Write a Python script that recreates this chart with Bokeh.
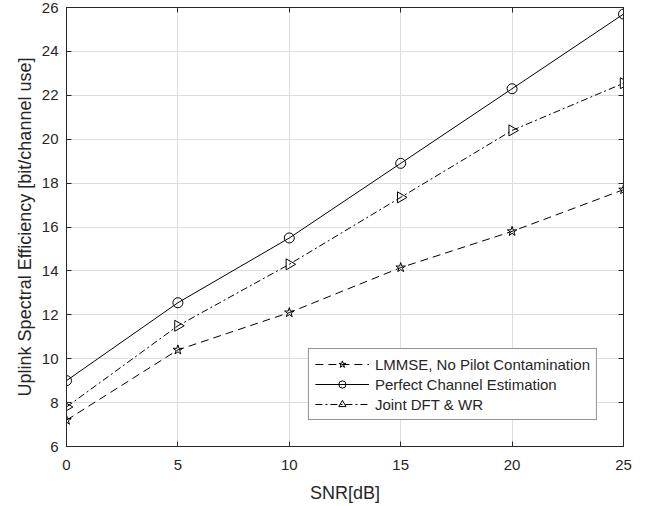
import numpy as np
from bokeh.plotting import figure
from bokeh.models import Range1d, FixedTicker, LinearAxis, Legend, LegendItem, CustomLabelingPolicy
from bokeh.embed import file_html
from bokeh.resources import INLINE

snr = [0, 5, 10, 15, 20, 25]
lmmse = [7.2, 10.4, 12.1, 14.15, 15.8, 17.7]
perfect = [9.0, 12.55, 15.5, 18.9, 22.3, 25.7]
joint = [7.8, 11.5, 14.3, 17.35, 20.4, 22.55]

x_ticks = [0, 5, 10, 15, 20, 25]
y_ticks = [6, 8, 10, 12, 14, 16, 18, 20, 22, 24, 26]

FONT = "Liberation Sans"
AX = "#262626"

p = figure(width=663, height=506, output_backend="svg", toolbar_location=None,
           x_range=Range1d(0, 25), y_range=Range1d(6, 26),
           min_border_left=66, min_border_right=40, min_border_top=7, min_border_bottom=60)
p.background_fill_color = "white"
p.border_fill_color = "white"
p.outline_line_color = AX
p.outline_line_width = 1

p.xaxis.ticker = FixedTicker(ticks=x_ticks)
p.yaxis.ticker = FixedTicker(ticks=y_ticks)
for ax in (p.xaxis[0], p.yaxis[0]):
    ax.major_tick_in = 5
    ax.major_tick_out = 0
    ax.minor_tick_in = 0
    ax.minor_tick_out = 0
    ax.axis_line_color = AX
    ax.major_tick_line_color = AX
    ax.major_label_text_font = FONT
    ax.major_label_text_font_size = "15px"
    ax.major_label_text_color = AX
    ax.axis_label_text_font = FONT
    ax.axis_label_text_font_size = "18px"
    ax.axis_label_text_font_style = "normal"
    ax.axis_label_text_color = AX

p.xaxis.axis_label = "SNR[dB]"
p.yaxis.axis_label = "Uplink Spectral Efficiency [bit/channel use]"
p.xaxis.major_label_standoff = 13
p.xaxis.axis_label_standoff = 10
p.yaxis.major_label_standoff = 8
p.yaxis.axis_label_standoff = 4

hide_all = CustomLabelingPolicy(code="for (const i of [...indices.ones()]) { indices.unset(i) }\nreturn indices")
for loc, ticks in (("right", y_ticks), ("above", x_ticks)):
    ax = LinearAxis(ticker=FixedTicker(ticks=ticks))
    ax.major_tick_in = 5
    ax.major_tick_out = 0
    ax.minor_tick_in = 0
    ax.minor_tick_out = 0
    ax.major_label_policy = hide_all
    ax.major_label_text_font_size = "1px"
    ax.major_label_standoff = 0
    ax.axis_line_color = AX
    ax.major_tick_line_color = AX
    p.add_layout(ax, loc)

p.xgrid.grid_line_color = "#dedede"
p.ygrid.grid_line_color = "#dedede"
p.xgrid.ticker = FixedTicker(ticks=x_ticks)
p.ygrid.ticker = FixedTicker(ticks=y_ticks)

l1 = p.line(snr, lmmse, line_color="black", line_width=1, line_dash="8 5")
s1 = p.scatter(snr, lmmse, marker="star", size=10, fill_color=None, line_color="black", line_width=1)
l2 = p.line(snr, perfect, line_color="black", line_width=1)
s2 = p.scatter(snr, perfect, marker="circle", size=10, fill_color=None, line_color="black", line_width=1)
l3 = p.line(snr, joint, line_color="black", line_width=1, line_dash="7 3 2 3")
s3 = p.scatter(snr, joint, marker="triangle", angle=-np.pi / 2, size=11, fill_color=None,
               line_color="black", line_width=1)

legend = Legend(items=[
    LegendItem(label="LMMSE, No Pilot Contamination", renderers=[l1, s1]),
    LegendItem(label="Perfect Channel Estimation", renderers=[l2, s2]),
    LegendItem(label="Joint DFT & WR", renderers=[l3, s3]),
], location="bottom_right")
legend.margin = 26
legend.padding = 6
legend.spacing = 2
legend.glyph_width = 54
legend.glyph_height = 18
legend.label_height = 18
legend.label_standoff = 6
legend.label_text_font = FONT
legend.label_text_font_size = "15px"
legend.label_text_color = AX
legend.border_line_color = AX
legend.border_line_width = 1
legend.background_fill_color = "white"
legend.background_fill_alpha = 1
p.add_layout(legend, "center")

open("out.html", "w").write(file_html(p, INLINE))
